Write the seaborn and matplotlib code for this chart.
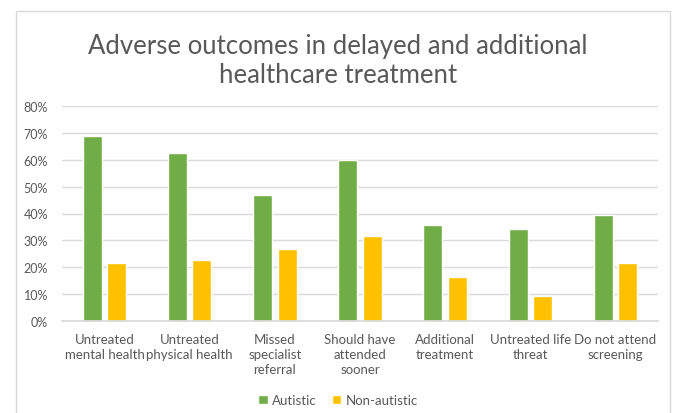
import matplotlib
matplotlib.use("Agg")
import matplotlib.pyplot as plt
import seaborn as sns
import pandas as pd
from matplotlib.patches import Rectangle
from matplotlib.ticker import PercentFormatter

categories = ["Untreated\nmental health", "Untreated\nphysical health", "Missed\nspecialist\nreferral",
              "Should have\nattended\nsooner", "Additional\ntreatment", "Untreated life\nthreat",
              "Do not attend\nscreening"]
autistic = [68.9, 62.7, 47.0, 59.9, 35.8, 34.1, 39.3]
non_autistic = [21.5, 22.5, 26.6, 31.6, 16.3, 9.3, 21.4]
series = ["Autistic", "Non-autistic"]
colors = ["#70ad47", "#ffc000"]

df = pd.DataFrame({
    "category": categories * 2,
    "value": autistic + non_autistic,
    "group": [series[0]] * len(categories) + [series[1]] * len(categories),
})

sns.set_theme(style="white")
plt.rcParams["font.family"] = ["Lato", "DejaVu Sans"]
gray = "#595959"

fig = plt.figure(figsize=(6.76, 4.14), dpi=100)
fig.patch.set_facecolor("white")
fig.patches.append(Rectangle((16 / 676, -0.05), (670 - 16) / 676, 1.05 - 12 / 414,
                             transform=fig.transFigure, fill=False, edgecolor="#d9d9d9", lw=1))

ax = fig.add_axes([62 / 676, 1 - 321.7 / 414, (658 - 62) / 676, (321.7 - 107.3) / 414])
sns.barplot(data=df, x="category", y="value", hue="group", palette=colors, width=0.572,
            gap=0.22, ax=ax, saturation=1, legend=True)

ax.set_ylim(0, 80)
ax.set_yticks(range(0, 81, 10))
ax.yaxis.set_major_formatter(PercentFormatter(decimals=0))
ax.set_xlim(-0.5, len(categories) - 0.5)
ax.grid(axis="y", color="#d9d9d9", lw=1)
ax.set_axisbelow(True)
for s in ["top", "right", "left"]:
    ax.spines[s].set_visible(False)
ax.spines["bottom"].set_color("#d9d9d9")
ax.set_xlabel("")
ax.set_ylabel("")
ax.tick_params(axis="both", length=0, colors=gray, labelsize=9.5)
ax.tick_params(axis="y", labelsize=9)
ax.tick_params(axis="x", pad=9)
ax.tick_params(axis="y", pad=10)
for t in ax.get_xticklabels():
    t.set_linespacing(1.3)

handles, labels = ax.get_legend_handles_labels()
ax.legend_.remove()
fig.legend(handles, labels, loc="center", bbox_to_anchor=(0.5, 1 - 401 / 414), ncol=2, frameon=False,
           fontsize=9.5, labelcolor=gray, handlelength=0.7, handleheight=0.7, handletextpad=0.3,
           columnspacing=1.2)

fig.text(0.5, 1 - 83 / 414, "Adverse outcomes in delayed and additional\nhealthcare treatment",
         ha="center", va="baseline", fontsize=18.5, color=gray, fontweight="normal", linespacing=1.22)

fig.savefig("out.png", dpi=100)
